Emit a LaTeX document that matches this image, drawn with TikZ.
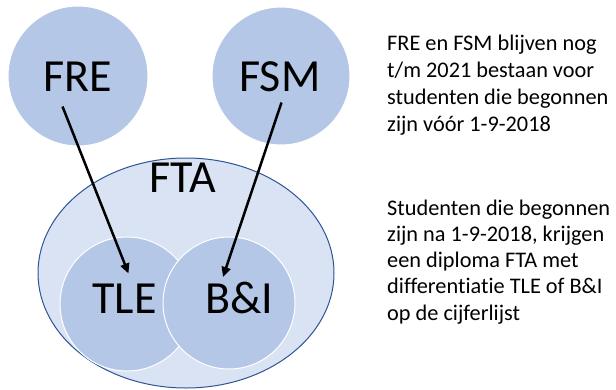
\documentclass[tikz,border=0pt]{standalone}
\usepackage{fontspec}
\setmainfont[Ligatures={NoCommon}]{Carlito}
\usetikzlibrary{arrows.meta,shapes.geometric}
\definecolor{circblue}{HTML}{B4C7E7}
\definecolor{paleblue}{HTML}{DAE3F3}
\definecolor{edgeblue}{HTML}{2F5597}
\tikzset{
  x=1pt, y=-1pt,
  bigcirc/.style={circle, fill=circblue, draw=white, line width=1pt, inner sep=0pt},
  biglabel/.style={inner sep=0pt, font=\fontsize{46}{46}\selectfont},
  sidetext/.style={align=left, anchor=base west, inner sep=0pt},
  flowarrow/.style={line width=2.5pt, -{Triangle[length=10pt,width=9pt]}}
}
\begin{document}
\begin{tikzpicture}
\useasboundingbox (0,0) rectangle (616,389);
% outer faculty ellipse
\node[ellipse, fill=paleblue, draw=edgeblue, line width=1pt, inner sep=0pt,
      minimum width=296pt, minimum height=230pt] (ftae) at (186,273) {};
\node[biglabel] (fta) at (182.5,177.5) {FTA};
% old faculties
\node[bigcirc, minimum size=140pt] (frec) at (78,76) {};
\node[bigcirc, minimum size=138pt] (fsmc) at (281,76) {};
\node[biglabel] (fre) at (78,77) {FRE};
\node[biglabel] (fsm) at (280,77) {FSM};
% differentiations
\node[bigcirc, minimum size=134pt] (tlec) at (127,304) {};
\node[bigcirc, minimum size=132pt] (bic) at (229,303) {};
\node[biglabel, anchor=base] (tle) at (124.5,313) {TLE};
\node[biglabel, anchor=base] (bi) at (239,313) {B\&I};
% transitions
\coordinate (freout) at (62.5,106.5);
\coordinate (tlein) at (128.5,273.5);
\coordinate (fsmout) at (281.5,102.5);
\coordinate (biin) at (223,277);
\draw[flowarrow] (freout) -- (tlein);
\draw[flowarrow] (fsmout) -- (biin);
% explanation (anchored on the baseline of each block's last line)
\node[sidetext, font=\fontsize{22.3}{27.2}\selectfont] (txt1) at (387,131.7)
  {FRE en FSM blijven nog\\t/m 2021 bestaan voor\\studenten die begonnen\\zijn vóór 1-9-2018};
\node[sidetext, font=\fontsize{22.3}{26.3}\selectfont] (txt2) at (387,320.2)
  {Studenten die begonnen\\zijn na 1-9-2018, krijgen\\een diploma FTA met\\differentiatie TLE of B\&I\\op de cijferlijst};
\end{tikzpicture}
\end{document}
